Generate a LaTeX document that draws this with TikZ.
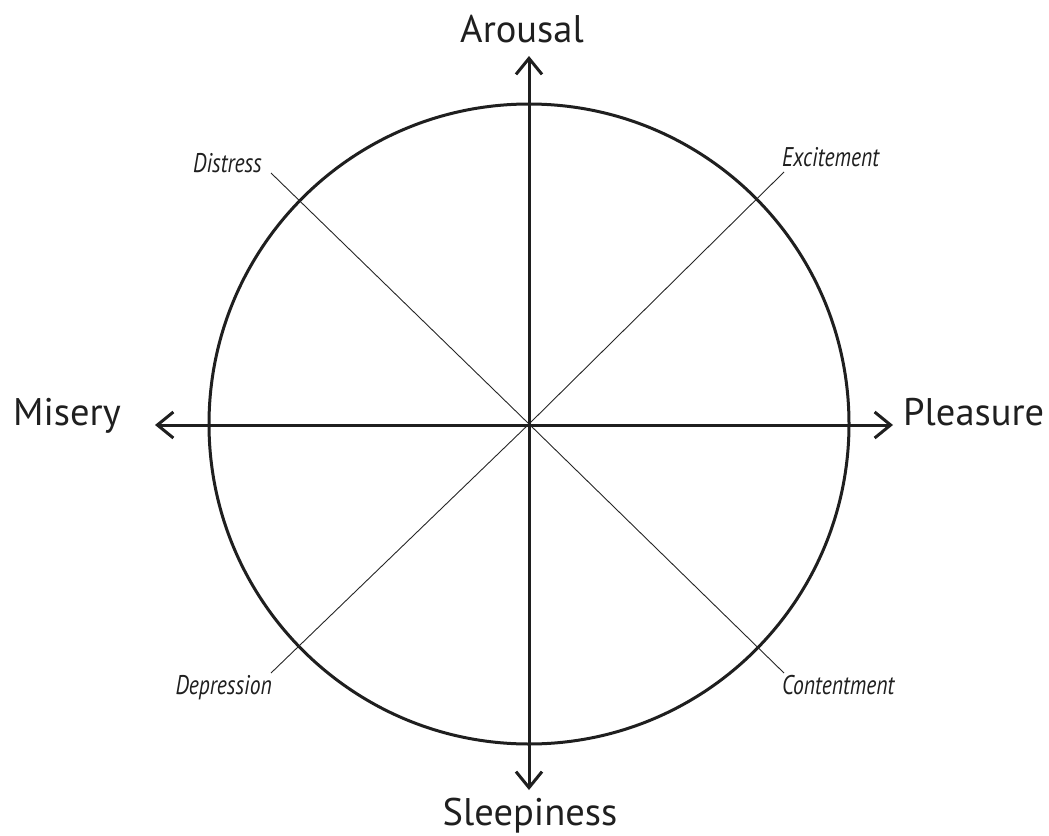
\documentclass[tikz,border=0pt]{standalone}
\usepackage{fontspec}
\setmainfont{PT Sans}
\newfontfamily\labelfont[FakeStretch=0.8]{PT Sans}
\usetikzlibrary{arrows.meta}
\begin{document}
\begin{tikzpicture}[x=1pt,y=-1pt,
  axis/.style={line width=3pt,color=black!88,-{Straight Barb[length=16pt,width=26pt,line width=3pt]}},
  ring/.style={line width=3pt,color=black!88},
  diag/.style={line width=0.9pt,color=black!85},
  axislabel/.style={font=\fontsize{38.5}{42}\selectfont,text=black!88,inner sep=0pt},
  emolabel/.style={font=\labelfont\itshape\fontsize{27}{30}\selectfont,text=black!88,inner sep=0pt}]
\useasboundingbox (0,0) rectangle (1049,835);
\coordinate (O) at (529,424);
\coordinate (N) at (529,56);
\coordinate (S) at (529,790);
\coordinate (W) at (155,425);
\coordinate (E) at (893,425);
\coordinate (NW) at (271,173);
\coordinate (NE) at (784,172);
\coordinate (SW) at (271,673);
\coordinate (SE) at (784,673);
\draw[ring] (O) circle[radius=320];
\draw[diag] (NW) -- (O) -- (SE);
\draw[diag] (SW) -- (O) -- (NE);
\draw[axis] (O |- 0,425) -- (W);
\draw[axis] (O |- 0,425) -- (E);
\draw[axis] (O) -- (N);
\draw[axis] (O) -- (S);
\node[axislabel,anchor=base] (arousal) at (522,42) {Arousal};
\node[axislabel,anchor=base] (sleep) at (530,825) {Sleepiness};
\node[axislabel,anchor=base west] (misery) at (13,425) {Misery};
\node[axislabel,anchor=base west] (pleasure) at (903,425) {Pleasure};
\node[emolabel,anchor=base east] (distress) at (262,172) {Distress};
\node[emolabel,anchor=base west] (excite) at (782,166) {Excitement};
\node[emolabel,anchor=base east] (depress) at (272,694) {Depression};
\node[emolabel,anchor=base west] (content) at (782,694) {Contentment};
\end{tikzpicture}
\end{document}
